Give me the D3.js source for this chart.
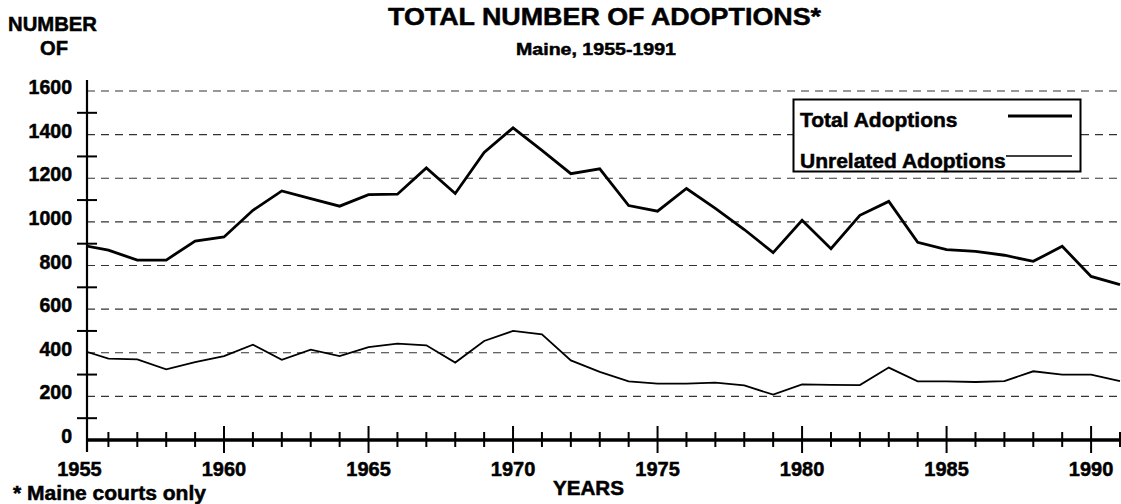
<!DOCTYPE html>
<html>
<head>
    <title>Total Number of Adoptions - Maine 1955-1991</title>
    <script src="https://cdnjs.cloudflare.com/ajax/libs/d3/7.8.5/d3.min.js"></script>
    <style>
        body {
            margin: 0;
            background-color: #fff;
            overflow: hidden;
        }
        svg text {
            font-family: "Liberation Sans", Arial, sans-serif;
            font-weight: bold;
            fill: #000;
            stroke: #000;
            stroke-width: 0.5px;
        }
    </style>
</head>
<body>
<script>
const width = 1121;
const height = 504;

// data
const years = [1955, 1956, 1957, 1958, 1959, 1960, 1961, 1962, 1963, 1964,
    1965, 1966, 1967, 1968, 1969, 1970, 1971, 1972, 1973, 1974,
    1975, 1976, 1977, 1978, 1979, 1980, 1981, 1982, 1983, 1984,
    1985, 1986, 1987, 1988, 1989, 1990, 1991];
const totalAdoptions = [895, 870, 825, 825, 912, 931, 1053, 1142, 1107, 1072,
    1125, 1127, 1247, 1130, 1318, 1431, 1328, 1221, 1243, 1075,
    1049, 1153, 1062, 965, 859, 1007, 877, 1030, 1094, 906,
    873, 865, 847, 819, 888, 750, 712];
const unrelatedAdoptions = [415, 373, 370, 324, 357, 385, 437, 368, 414, 385,
    426, 442, 434, 355, 454, 500, 484, 365, 312, 269,
    258, 258, 263, 250, 208, 255, 253, 252, 332, 269,
    269, 266, 270, 315, 300, 300, 270];
const yearLabels = [1955, 1960, 1965, 1970, 1975, 1980, 1985, 1990];
const gridValues = [200, 400, 600, 800, 1000, 1200, 1400, 1600];
const yLabels = [0, 200, 400, 600, 800, 1000, 1200, 1400, 1600];
const yMinorTicks = [100, 300, 500, 700, 900, 1100, 1300, 1500];

const axisX = 87;

const x = d3.scaleLinear().domain([1955, 1991]).range([79.5, 1120]);
const y = d3.scaleLinear().domain([0, 1600]).range([440, 91]);

const svg = d3.select("body")
    .append("svg")
    .attr("width", width)
    .attr("height", height);

svg.append("defs").append("clipPath")
    .attr("id", "plot-clip")
    .append("rect")
    .attr("x", axisX)
    .attr("y", 0)
    .attr("width", width - axisX)
    .attr("height", height);

// titles
svg.append("text")
    .attr("x", 388).attr("y", 25)
    .attr("font-size", 24.5)
    .attr("textLength", 433)
    .attr("lengthAdjust", "spacingAndGlyphs")
    .text("TOTAL NUMBER OF ADOPTIONS*");

svg.append("text")
    .attr("x", 516).attr("y", 55)
    .attr("font-size", 17)
    .attr("textLength", 160)
    .attr("lengthAdjust", "spacingAndGlyphs")
    .text("Maine, 1955-1991");

svg.append("text")
    .attr("x", 8).attr("y", 31)
    .attr("font-size", 20.5)
    .attr("textLength", 89)
    .attr("lengthAdjust", "spacingAndGlyphs")
    .text("NUMBER");

svg.append("text")
    .attr("x", 40).attr("y", 55)
    .attr("font-size", 20.5)
    .attr("textLength", 28)
    .attr("lengthAdjust", "spacingAndGlyphs")
    .text("OF");

// dashed gridlines
svg.append("g")
    .selectAll("line")
    .data(gridValues)
    .join("line")
    .attr("x1", axisX)
    .attr("x2", width)
    .attr("y1", d => y(d))
    .attr("y2", d => y(d))
    .attr("stroke", "#333")
    .attr("stroke-width", 1.2)
    .attr("stroke-dasharray", "8,6");

// y axis
svg.append("line")
    .attr("x1", axisX).attr("x2", axisX)
    .attr("y1", 80).attr("y2", 452)
    .attr("stroke", "#000")
    .attr("stroke-width", 2.2);

svg.append("g")
    .selectAll("line")
    .data(yMinorTicks)
    .join("line")
    .attr("x1", 77)
    .attr("x2", 97)
    .attr("y1", d => y(d))
    .attr("y2", d => y(d))
    .attr("stroke", "#000")
    .attr("stroke-width", 2);

svg.append("g")
    .selectAll("text")
    .data(yLabels)
    .join("text")
    .attr("x", 72)
    .attr("y", d => y(d) + 3)
    .attr("text-anchor", "end")
    .attr("font-size", 19.5)
    .text(d => d);

// x axis
svg.append("line")
    .attr("x1", axisX).attr("x2", width)
    .attr("y1", 440).attr("y2", 440)
    .attr("stroke", "#000")
    .attr("stroke-width", 3.5);

svg.append("g")
    .selectAll("line")
    .data(years.filter(d => d > 1955))
    .join("line")
    .attr("x1", d => x(d))
    .attr("x2", d => x(d))
    .attr("y1", d => d % 5 === 0 ? 426 : 432)
    .attr("y2", d => d % 5 === 0 ? 453 : 447)
    .attr("stroke", "#000")
    .attr("stroke-width", 2);

svg.append("g")
    .selectAll("text")
    .data(yearLabels)
    .join("text")
    .attr("x", d => x(d))
    .attr("y", 476)
    .attr("text-anchor", "middle")
    .attr("font-size", 20)
    .text(d => d);

svg.append("text")
    .attr("x", 553).attr("y", 495)
    .attr("font-size", 20)
    .attr("textLength", 71)
    .attr("lengthAdjust", "spacingAndGlyphs")
    .text("YEARS");

svg.append("text")
    .attr("x", 13).attr("y", 500)
    .attr("font-size", 20)
    .attr("textLength", 193)
    .attr("lengthAdjust", "spacingAndGlyphs")
    .text("* Maine courts only");

// series lines
const line = d3.line()
    .x((d, i) => x(years[i]))
    .y(d => y(d));

const plot = svg.append("g").attr("clip-path", "url(#plot-clip)");

plot.append("path")
    .datum(totalAdoptions)
    .attr("d", line)
    .attr("fill", "none")
    .attr("stroke", "#000")
    .attr("stroke-width", 2.8)
    .attr("stroke-linejoin", "miter");

plot.append("path")
    .datum(unrelatedAdoptions)
    .attr("d", line)
    .attr("fill", "none")
    .attr("stroke", "#000")
    .attr("stroke-width", 1.8)
    .attr("stroke-linejoin", "miter");

// legend
const legend = svg.append("g");

legend.append("rect")
    .attr("x", 793.5).attr("y", 99.5)
    .attr("width", 287).attr("height", 72)
    .attr("fill", "#fff")
    .attr("stroke", "#000")
    .attr("stroke-width", 2);

legend.append("text")
    .attr("x", 800).attr("y", 127)
    .attr("font-size", 21)
    .text("Total Adoptions");

legend.append("line")
    .attr("x1", 1008).attr("x2", 1072)
    .attr("y1", 116).attr("y2", 116)
    .attr("stroke", "#000")
    .attr("stroke-width", 3);

legend.append("text")
    .attr("x", 800).attr("y", 167.5)
    .attr("font-size", 21)
    .text("Unrelated Adoptions");

legend.append("line")
    .attr("x1", 1006).attr("x2", 1072)
    .attr("y1", 156).attr("y2", 156)
    .attr("stroke", "#000")
    .attr("stroke-width", 1.5);
</script>
</body>
</html>
